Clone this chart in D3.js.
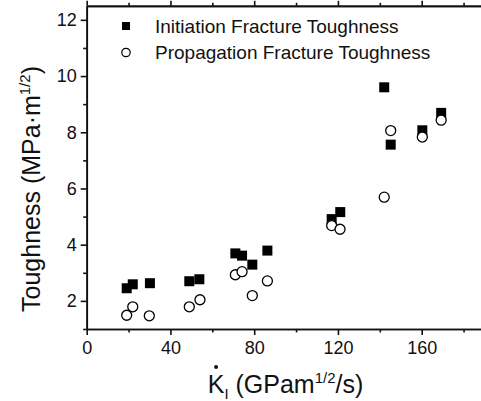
<!DOCTYPE html>
<html>
<head>
<meta charset="utf-8">
<script src="https://cdn.jsdelivr.net/npm/d3@7"></script>
<style>
  html, body { margin: 0; padding: 0; background: #fff; }
  svg { display: block; font-family: "Liberation Sans", Arial, sans-serif; }
</style>
</head>
<body>
<svg id="chart" width="481" height="401"></svg>
<script>
// Loading rate K̇I (GPa·m^1/2/s) for each test
const initRate = [19.1, 22.0, 30.2, 49.0, 53.8, 71.0, 74.2, 79.1, 86.3, 117.0, 121.1, 142.1, 145.2, 160.3, 169.3];
// Initiation fracture toughness (MPa·m^1/2)
const initToughness = [2.45, 2.59, 2.63, 2.70, 2.77, 3.69, 3.61, 3.29, 3.79, 4.91, 5.16, 9.60, 7.56, 8.07, 8.69];

const propRate = [19.1, 22.0, 29.9, 49.0, 54.1, 71.0, 74.2, 79.1, 86.3, 117.0, 121.0, 142.1, 145.2, 160.3, 169.3];
// Propagation fracture toughness (MPa·m^1/2)
const propToughness = [1.49, 1.79, 1.47, 1.79, 2.04, 2.93, 3.04, 2.19, 2.71, 4.68, 4.55, 5.69, 8.06, 7.83, 8.43];

const xTicks = [0, 40, 80, 120, 160];
const yTicks = [2, 4, 6, 8, 10, 12];
const legendLabels = ["Initiation Fracture Toughness", "Propagation Fracture Toughness"];

(function () {
  const svg = d3.select("#chart");
  const plotLeft = 86.7, plotBottom = 329, plotTop = 5.8;
  const pxPerUnit = (421.7 - 86.7) / 160;

  const x = d3.scaleLinear().domain([0, 190]).range([plotLeft, plotLeft + 190 * pxPerUnit]);
  const y = d3.scaleLinear().domain([1, 12.5]).range([plotBottom, plotTop]);

  const axisColor = "#111";

  // minor ticks every 20 on x, every 1 on y
  const xMinor = d3.range(0, 191, 20).filter(v => !xTicks.includes(v));
  const yMinor = d3.range(1, 12.6, 1).filter(v => !yTicks.includes(v));

  function styleAxis(g) {
    g.select(".domain").attr("stroke", axisColor).attr("stroke-width", 1.7);
    g.selectAll(".tick line").attr("stroke", axisColor).attr("stroke-width", 1.6);
    g.selectAll(".tick text").attr("fill", "#111").style("font-size", "18px")
      .style("font-family", "'Liberation Sans', Arial, sans-serif");
  }

  // bottom axis
  svg.append("g").attr("transform", `translate(0,${plotBottom})`)
    .call(d3.axisBottom(x).tickValues(xTicks).tickSize(6).tickSizeOuter(0).tickPadding(6))
    .call(styleAxis);
  svg.append("g").attr("transform", `translate(0,${plotBottom})`)
    .call(d3.axisBottom(x).tickValues(xMinor).tickSize(3.5).tickSizeOuter(0).tickFormat(""))
    .call(styleAxis);

  // top axis
  svg.append("g").attr("transform", `translate(0,${plotTop})`)
    .call(d3.axisTop(x).tickValues(xTicks).tickSize(5).tickSizeOuter(0).tickFormat(""))
    .call(styleAxis);
  svg.append("g").attr("transform", `translate(0,${plotTop})`)
    .call(d3.axisTop(x).tickValues(xMinor).tickSize(3).tickSizeOuter(0).tickFormat(""))
    .call(styleAxis);

  // left axis
  svg.append("g").attr("transform", `translate(${plotLeft},0)`)
    .call(d3.axisLeft(y).tickValues(yTicks).tickSize(6).tickSizeOuter(0).tickPadding(4))
    .call(styleAxis);
  svg.append("g").attr("transform", `translate(${plotLeft},0)`)
    .call(d3.axisLeft(y).tickValues(yMinor).tickSize(3.5).tickSizeOuter(0).tickFormat(""))
    .call(styleAxis);

  // axis titles
  const yTitle = svg.append("text")
    .attr("transform", `translate(39.5,189) rotate(-90)`)
    .attr("text-anchor", "middle")
    .style("font-size", "25px").attr("fill", "#111");
  yTitle.append("tspan").text("Toughness (MPa·m");
  yTitle.append("tspan").attr("dy", -10).style("font-size", "15px").text("1/2");
  yTitle.append("tspan").attr("dy", 10).text(")");

  const xTitle = svg.append("text")
    .attr("x", 285.5).attr("y", 393)
    .attr("text-anchor", "middle")
    .style("font-size", "25px").attr("fill", "#111");
  xTitle.append("tspan").text("K");
  xTitle.append("tspan").attr("dy", 6).style("font-size", "15px").text("I");
  xTitle.append("tspan").attr("dy", -6).text(" (GPam");
  xTitle.append("tspan").attr("dy", -10).style("font-size", "15px").text("1/2");
  xTitle.append("tspan").attr("dy", 10).text("/s)");

  // dot over the K (rate symbol)
  let kx = 220;
  try {
    const ext = xTitle.node().getExtentOfChar(0);
    kx = ext.x + ext.width / 2;
  } catch (e) { /* keep default */ }
  svg.append("circle").attr("cx", kx).attr("cy", 367).attr("r", 2).attr("fill", "#111");

  // data marks: filled squares first, open circles on top
  const sq = 10, cr = 5;
  svg.append("g").selectAll("rect").data(initRate.map((r, i) => [r, initToughness[i]]))
    .join("rect")
    .attr("x", d => x(d[0]) - sq / 2).attr("y", d => y(d[1]) - sq / 2)
    .attr("width", sq).attr("height", sq).attr("fill", "#000");

  svg.append("g").selectAll("circle").data(propRate.map((r, i) => [r, propToughness[i]]))
    .join("circle")
    .attr("cx", d => x(d[0])).attr("cy", d => y(d[1])).attr("r", cr)
    .attr("fill", "#fff").attr("stroke", "#000").attr("stroke-width", 1.3);

  // legend
  const lg = svg.append("g");
  lg.append("rect").attr("x", 122).attr("y", 22).attr("width", 8).attr("height", 8).attr("fill", "#000");
  lg.append("circle").attr("cx", 126).attr("cy", 52.5).attr("r", 4.2)
    .attr("fill", "#fff").attr("stroke", "#000").attr("stroke-width", 1.2);
  lg.selectAll("text").data(legendLabels).join("text")
    .attr("x", 155).attr("y", (d, i) => 33 + i * 26)
    .style("font-size", "19px").attr("fill", "#111")
    .text(d => d);
})();
</script>
</body>
</html>
